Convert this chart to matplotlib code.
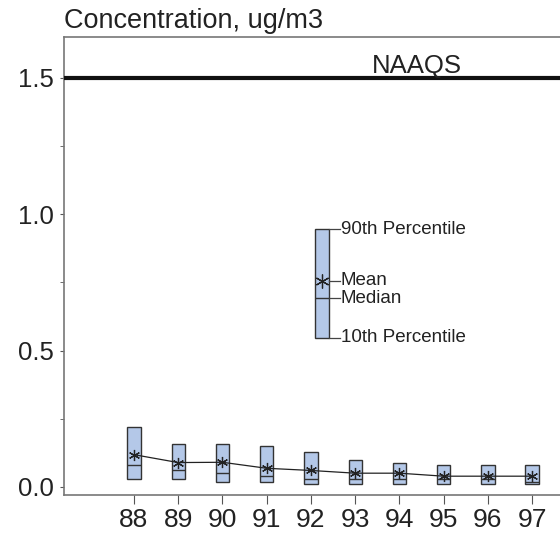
import matplotlib
matplotlib.use('Agg')
import matplotlib.pyplot as plt
from matplotlib.ticker import MultipleLocator

plt.rcParams['font.family'] = ['Liberation Sans', 'DejaVu Sans']

# data
years = [88, 89, 90, 91, 92, 93, 94, 95, 96, 97]
p10 = [0.029, 0.028, 0.019, 0.019, 0.010, 0.010, 0.010, 0.010, 0.010, 0.010]
p90 = [0.219, 0.157, 0.157, 0.150, 0.127, 0.098, 0.089, 0.079, 0.079, 0.079]
medians = [0.080, 0.060, 0.050, 0.039, 0.028, 0.028, 0.028, 0.028, 0.028, 0.019]
means = [0.118, 0.089, 0.090, 0.068, 0.060, 0.050, 0.050, 0.039, 0.039, 0.039]
naaqs = 1.5

# example box used as a key
key_x = 92.25
key_p10, key_p90, key_median, key_mean = 0.546, 0.945, 0.692, 0.755
key_labels = ['90th Percentile', 'Mean', 'Median', '10th Percentile']

box_face = '#b4c8e8'
box_edge = '#333333'
w = 0.3

fig = plt.figure(figsize=(5.6, 5.33), dpi=100)
ax = fig.add_axes([0.1143, 0.0713, 0.8857, 0.8593])

# yearly boxes
heights = [hi - lo for lo, hi in zip(p10, p90)]
ax.bar(years, heights, bottom=p10, width=w, color=box_face, edgecolor=box_edge, linewidth=1.0, zorder=2)
ax.hlines(medians, [x - w / 2 for x in years], [x + w / 2 for x in years], color=box_edge, linewidth=1.0, zorder=3)
ax.plot(years, means, color='#222222', linewidth=0.9, zorder=4)
ax.plot(years, means, linestyle='none', marker=(6, 2, 0), markersize=8, markeredgewidth=0.9,
        color='#222222', zorder=5)

# key box
ax.bar([key_x], [key_p90 - key_p10], bottom=[key_p10], width=w, color=box_face, edgecolor=box_edge,
       linewidth=1.0, zorder=2)
ax.hlines([key_median], key_x - w / 2, key_x + w / 2, color=box_edge, linewidth=1.0, zorder=3)
ax.plot([key_x], [key_mean], marker=(6, 2, 0), markersize=10, markeredgewidth=0.9, color='#222222', zorder=5)
for lab, val in zip(key_labels, [key_p90, key_mean, key_median, key_p10]):
    ax.plot([key_x + w / 2, key_x + w / 2 + 0.25], [val, val], color='#444444', linewidth=0.9)
    ax.text(key_x + w / 2 + 0.27, val, lab, fontsize=13.5, va='center', ha='left', color='#222222')

# NAAQS
ax.axhline(naaqs, color='#111111', linewidth=3, zorder=3)
ax.text(94.40, naaqs + 0.018, 'NAAQS', fontsize=18.5, ha='center', va='baseline', color='#222222')

ax.set_xlim(86.42, 97.63)
ax.set_ylim(-0.03, 1.65)
ax.set_xticks(years)
ax.set_xticklabels([str(y) for y in years])
ax.set_yticks([0.0, 0.5, 1.0, 1.5])
ax.set_yticklabels(['0.0', '0.5', '1.0', '1.5'])
ax.yaxis.set_minor_locator(MultipleLocator(0.25))

for s in ['left', 'bottom', 'top']:
    ax.spines[s].set_color('#777777')
    ax.spines[s].set_linewidth(1.2)
ax.spines['right'].set_visible(False)

ax.tick_params(axis='y', which='major', labelsize=18.5, length=3, color='#555555', labelcolor='#222222', pad=4)
ax.tick_params(axis='y', which='minor', length=3, color='#555555')
ax.tick_params(axis='x', labelsize=19, length=6.5, color='#555555', labelcolor='#222222', pad=3)

fig.text(0.1143, 0.9475, 'Concentration, ug/m3', fontsize=19.5, ha='left', va='baseline', color='#222222')

fig.savefig('out.png', dpi=100)
